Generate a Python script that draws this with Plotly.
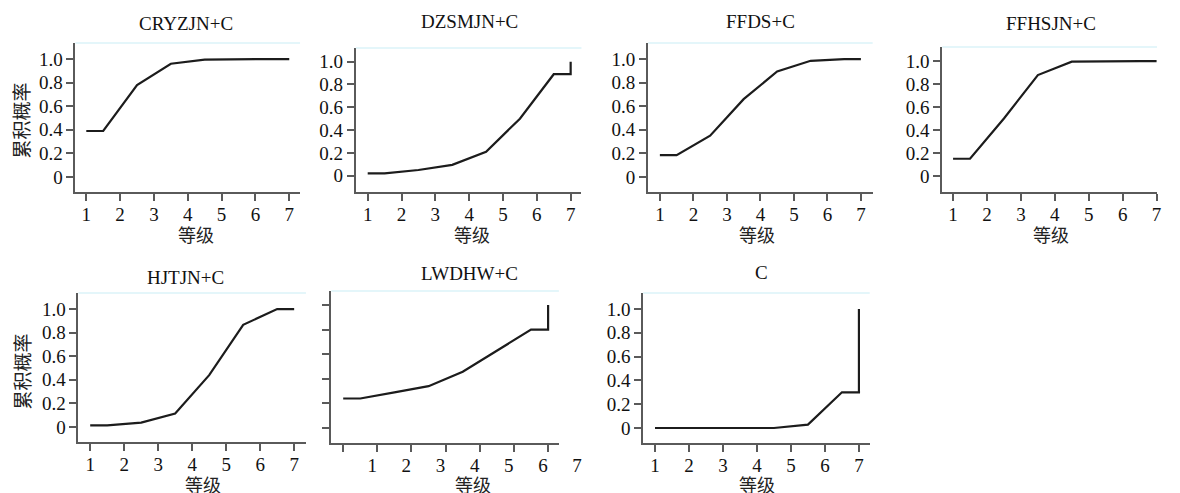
import plotly.graph_objects as go

# ---------------- data ----------------
X_BASE = [1, 1.5, 2.5, 3.5, 4.5, 5.5, 6.5, 7]
X_JUMP = [1, 1.5, 2.5, 3.5, 4.5, 5.5, 6.5, 7, 7]

CRYZJN = [0.39, 0.39, 0.78, 0.96, 0.995, 1.0, 1.0, 1.0]
DZSMJN = [0.02, 0.02, 0.05, 0.095, 0.21, 0.50, 0.89, 0.89, 1.0]
FFDS = [0.185, 0.185, 0.35, 0.66, 0.895, 0.985, 1.0, 1.0]
FFHSJN = [0.15, 0.15, 0.50, 0.878, 0.994, 1.0, 1.0, 1.0]
HJTJN = [0.014, 0.014, 0.037, 0.114, 0.44, 0.866, 1.0, 1.0]
LWDHW = [0.24, 0.24, 0.29, 0.34, 0.457, 0.63, 0.80, 0.80, 1.0]
C_ONLY = [0.0, 0.0, 0.0, 0.0, 0.0, 0.028, 0.30, 0.30, 1.0]

TITLES = ["CRYZJN+C", "DZSMJN+C", "FFDS+C", "FFHSJN+C", "HJTJN+C", "LWDHW+C", "C"]
SERIES = [CRYZJN, DZSMJN, FFDS, FFHSJN, HJTJN, LWDHW, C_ONLY]

X_TICK_VALS = [1, 2, 3, 4, 5, 6, 7]
X_TICK_TEXT = ["1", "2", "3", "4", "5", "6", "7"]
Y_TICK_VALS = [0, 0.2, 0.4, 0.6, 0.8, 1.0]
Y_TICK_TEXT = ["0", "0.2", "0.4", "0.6", "0.8", "1.0"]
X_TITLE = "等级"
Y_TITLE = "累积概率"

# ---------------- layout (pixels) ----------------
W, H = 1180, 493
# x0, x1, ytop, ybot, xrange, yrange
PANELS = [
    (77, 306, 43, 192, [0.681, 7.319], [-0.127, 1.136]),
    (363, 593, 48, 192, [0.652, 7.319], [-0.143, 1.12]),
    (661, 890, 43, 192, [0.649, 7.351], [-0.127, 1.136]),
    (961, 1180, 47, 192, [0.682, 7.012], [-0.139, 1.122]),
    (80, 312, 293, 442, [0.654, 7.346], [-0.127, 1.136]),
    (338, 570, 291, 443, [0.655, 7.316], [-0.122, 1.114]),
    (656, 887, 293, 443, [0.654, 7.317], [-0.126, 1.134]),
]
TITLE_POS = [(190, 23), (479, 21), (776, 22), (1072, 23), (189, 277), (479, 273), (777, 272)]
XT_POS = [(200, 234), (481, 234), (772, 234), (1072, 234), (207, 484), (482, 484), (772, 484)]
YT_POS = [(21, 121), (21, 372)]

SERIF = "Liberation Serif"
CJK = "Noto Sans CJK SC"
AX_COLOR = "#5a5a5a"


def px(x):
    return x / W


def py(y):
    return 1 - y / H


fig = go.Figure()
layout = dict(
    width=W, height=H, margin=dict(l=0, r=0, t=0, b=0),
    paper_bgcolor="white", plot_bgcolor="white", showlegend=False,
)
annotations = []
shapes = []

for i, (vals, title) in enumerate(zip(SERIES, TITLES)):
    n = i + 1
    sfx = "" if n == 1 else str(n)
    xs = X_JUMP if len(vals) == len(X_JUMP) else X_BASE
    fig.add_trace(go.Scatter(
        x=xs, y=vals, mode="lines",
        line=dict(color="#1c1c1c", width=2.2),
        xaxis="x" + sfx, yaxis="y" + sfx, hoverinfo="skip",
    ))
    x0, x1, yt, yb, xr, yr = PANELS[i]
    is_lw = title == "LWDHW+C"
    layout["xaxis" + sfx] = dict(
        domain=[px(x0), px(x1)], range=xr, anchor="y" + sfx,
        tickmode="array", tickvals=X_TICK_VALS, ticktext=X_TICK_TEXT,
        ticks="outside", ticklen=7, tickwidth=2, tickcolor=AX_COLOR,
        showline=True, linecolor=AX_COLOR, linewidth=2,
        showgrid=False, zeroline=False,
        tickfont=dict(family=SERIF, size=19, color="#111"),
        ticklabelshift=29 if is_lw else 0,
        ticklabelstandoff=-3,
    )
    layout["yaxis" + sfx] = dict(
        domain=[py(yb), py(yt)], range=yr, anchor="x" + sfx,
        tickmode="array", tickvals=Y_TICK_VALS, ticktext=Y_TICK_TEXT,
        ticks="outside", ticklen=7, tickwidth=2, tickcolor=AX_COLOR,
        showline=True, linecolor=AX_COLOR, linewidth=2,
        showgrid=False, zeroline=False, showticklabels=not is_lw,
        tickfont=dict(family=SERIF, size=19, color="#111"),
    )
    # faint top border
    shapes.append(dict(
        type="line", xref="paper", yref="paper",
        x0=px(x0), x1=px(x1), y0=py(yt), y1=py(yt),
        line=dict(color="#e4f6fa", width=2),
    ))
    tx, ty = TITLE_POS[i]
    annotations.append(dict(
        text=title, x=px(tx), y=py(ty), xref="paper", yref="paper",
        xanchor="center", yanchor="middle", showarrow=False,
        font=dict(family=SERIF, size=19, color="#111"),
    ))
    ax, ay = XT_POS[i]
    annotations.append(dict(
        text=X_TITLE, x=px(ax), y=py(ay), xref="paper", yref="paper",
        xanchor="center", yanchor="middle", showarrow=False,
        font=dict(family=CJK, size=18, color="#222"),
    ))

for (yx, yy) in YT_POS:
    annotations.append(dict(
        text=Y_TITLE, x=px(yx), y=py(yy), xref="paper", yref="paper",
        xanchor="center", yanchor="middle", showarrow=False, textangle=-90,
        font=dict(family=CJK, size=19, color="#222"),
    ))

layout["annotations"] = annotations
layout["shapes"] = shapes
fig.update_layout(**layout)
fig.write_html("out.html")
